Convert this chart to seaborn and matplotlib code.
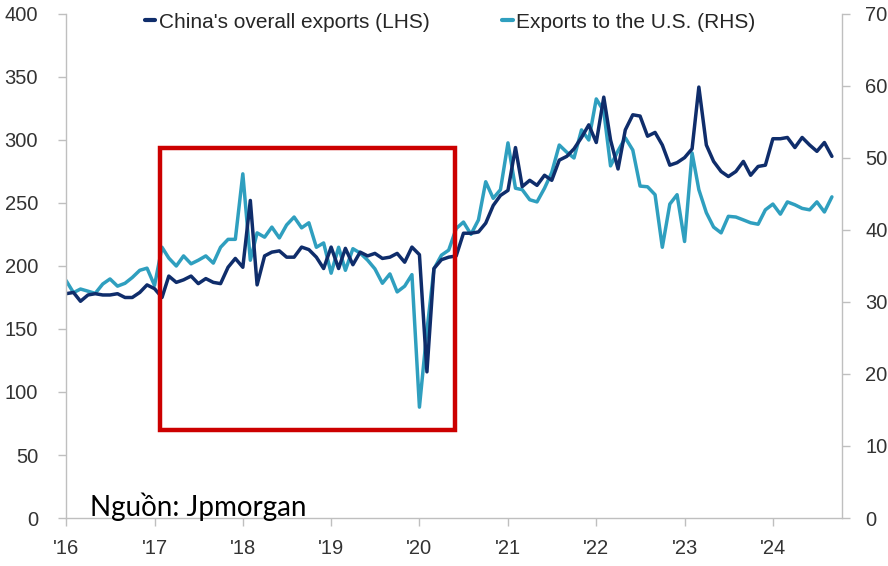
import seaborn as sns
import matplotlib.pyplot as plt
import matplotlib.dates as mdates
from matplotlib.lines import Line2D
from matplotlib.patches import Rectangle
import pandas as pd

# Monthly data, Jan 2016 - Sep 2024 (USD bn)
overall_exports = [
    178, 179, 172, 177, 178, 177, 177, 178, 175, 175, 179, 185,  # 2016
    182, 175, 192, 187, 189, 192, 186, 190, 187, 186, 199, 206,  # 2017
    199, 252, 185, 208, 211, 212, 207, 207, 215, 213, 207, 198,  # 2018
    215, 198, 214, 201, 211, 208, 210, 206, 207, 210, 203, 215,  # 2019
    209, 116, 198, 205, 207, 208, 226, 226, 227, 234, 248, 256,  # 2020
    260, 294, 263, 268, 264, 272, 268, 284, 287, 293, 302, 312,  # 2021
    298, 334, 300, 277, 308, 320, 319, 303, 306, 296, 280, 282,  # 2022
    286, 293, 342, 296, 283, 275, 271, 275, 283, 272, 279, 280,  # 2023
    301, 301, 302, 294, 302, 296, 291, 298, 287,                 # 2024
]
us_exports = [
    33.0, 31.3, 31.8, 31.5, 31.2, 32.5, 33.2, 32.2, 32.6, 33.4, 34.4, 34.7,  # 2016
    32.3, 37.6, 36.1, 35.0, 36.4, 35.3, 35.8, 36.4, 35.4, 37.6, 38.7, 38.7,  # 2017
    47.8, 35.8, 39.6, 39.0, 40.4, 38.9, 40.7, 41.8, 40.3, 41.0, 37.6, 38.2,  # 2018
    34.0, 37.6, 34.4, 37.4, 36.8, 35.8, 34.6, 32.6, 33.9, 31.4, 32.2, 33.8,  # 2019
    15.4, 26.0, 34.6, 36.5, 37.2, 40.2, 41.1, 39.4, 41.4, 46.7, 44.4, 45.6,  # 2020
    52.1, 45.8, 45.6, 44.2, 43.9, 45.8, 48.0, 51.8, 50.8, 50.0, 53.9, 52.5,  # 2021
    58.2, 56.5, 48.9, 51.0, 52.8, 51.1, 46.1, 46.0, 44.9, 37.6, 43.6, 44.9,  # 2022
    38.4, 50.7, 45.6, 42.4, 40.4, 39.6, 41.9, 41.8, 41.4, 41.0, 40.8, 42.8,  # 2023
    43.6, 42.2, 43.9, 43.5, 43.0, 42.8, 43.9, 42.5, 44.6,                    # 2024
]
year_labels = ["'16", "'17", "'18", "'19", "'20", "'21", "'22", "'23", "'24"]
left_ticks = [0, 50, 100, 150, 200, 250, 300, 350, 400]
right_ticks = [0, 10, 20, 30, 40, 50, 60, 70]

# highlighted trade-war period
box_start, box_end = "2017-01-22", "2020-05-26"
box_low, box_high = 70, 294

dark = "#0f2d6b"
light = "#2f9fbf"
grey = "#bfbfbf"

df = pd.DataFrame({
    "date": pd.date_range("2016-01-01", periods=len(overall_exports), freq="MS"),
    "overall": overall_exports,
    "us": us_exports,
})

sns.set_style("white")
plt.rcParams["font.family"] = ["Liberation Sans", "DejaVu Sans"]

fig = plt.figure(figsize=(8.88, 5.66), dpi=100)
ax = fig.add_axes([0.0743, 0.0848, 0.8737, 0.8905])
ax2 = ax.twinx()

sns.lineplot(data=df, x="date", y="overall", ax=ax, color=dark, lw=2.5)
sns.lineplot(data=df, x="date", y="us", ax=ax2, color=light, lw=2.5)

ax.set_ylim(0, 400)
ax2.set_ylim(0, 70)
ax.set_yticks(left_ticks)
ax2.set_yticks(right_ticks)
ax.set_xlim(pd.Timestamp("2016-01-01"), pd.Timestamp("2024-10-12"))
year_ticks = pd.date_range("2016-01-01", periods=len(year_labels), freq="YS")
ax.set_xticks(year_ticks)
ax.set_xticklabels(year_labels)

for a in (ax, ax2):
    a.set_xlabel("")
    a.set_ylabel("")
    a.spines["top"].set_visible(False)
    for s in ("left", "right", "bottom"):
        a.spines[s].set_color(grey)
        a.spines[s].set_linewidth(1.0)
    a.tick_params(colors=grey, labelcolor="#333333", labelsize=14.5, length=6, width=1)
ax.spines["right"].set_visible(False)
ax2.spines["left"].set_visible(False)
ax2.spines["bottom"].set_visible(False)
ax.tick_params(axis="y", left=True, pad=14)
ax.tick_params(axis="x", bottom=True, pad=9)
ax2.tick_params(axis="y", right=True, pad=11)

x0 = mdates.date2num(pd.Timestamp(box_start))
x1 = mdates.date2num(pd.Timestamp(box_end))
ax.add_patch(Rectangle((x0, box_low), x1 - x0, box_high - box_low, fill=False,
                       edgecolor="#cc0000", lw=3.2, zorder=10, clip_on=False))
ax.set_zorder(ax2.get_zorder() + 1)
ax.patch.set_visible(False)

handles = [Line2D([], [], color=dark, lw=3), Line2D([], [], color=light, lw=3)]
ax.legend(handles, ["China's overall exports (LHS)", "Exports to the U.S. (RHS)"],
          loc="upper center", bbox_to_anchor=(0.495, 1.04), ncol=2, frameon=False,
          fontsize=15, handlelength=0.5, handletextpad=0.15, columnspacing=3.5)

ax.text(0.031, 0.004, "Nguồn: Jpmorgan", transform=ax.transAxes, fontsize=20,
        family=["Lato", "DejaVu Sans"], color="black", va="baseline", ha="left")

plt.savefig("out.png", dpi=100)
